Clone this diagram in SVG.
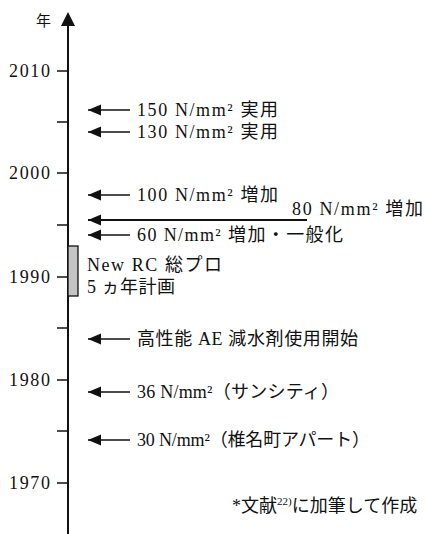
<svg xmlns="http://www.w3.org/2000/svg" width="426" height="534" viewBox="0 0 426 534">
<style>
text{font-family:"Liberation Serif","Noto Sans CJK JP",serif;font-size:18px;fill:#111}
.yr{text-anchor:end}
.ax{stroke:#111;stroke-width:2;fill:none}
.tk{stroke:#111;stroke-width:1.5}
.ar{stroke:#111;stroke-width:1.6}
</style>
<defs>
<marker id="ah" markerWidth="14" markerHeight="12" refX="13" refY="6" orient="auto" markerUnits="userSpaceOnUse">
<path d="M13,6 L0,0.5 L0,11.5 Z" fill="#111"/>
</marker>
</defs>
<rect width="426" height="534" fill="#fff"/>
<g id="axis">
<line class="ax" x1="68" y1="24" x2="68" y2="534"/>
<path d="M68,12 L61,26 L75,26 Z" fill="#111"/>
<text x="36" y="26" style="font-size:15px">年</text>
<g class="tk">
<line x1="57" y1="71" x2="68" y2="71"/>
<line x1="57" y1="122" x2="68" y2="122"/>
<line x1="57" y1="173" x2="68" y2="173"/>
<line x1="57" y1="225" x2="68" y2="225"/>
<line x1="57" y1="277" x2="68" y2="277"/>
<line x1="57" y1="328" x2="68" y2="328"/>
<line x1="57" y1="380" x2="68" y2="380"/>
<line x1="57" y1="431" x2="68" y2="431"/>
<line x1="57" y1="483" x2="68" y2="483"/>
</g>
<text class="yr" x="50" y="77" textLength="41">2010</text>
<text class="yr" x="50" y="179" textLength="41">2000</text>
<text class="yr" x="50" y="283" textLength="41">1990</text>
<text class="yr" x="50" y="386" textLength="41">1980</text>
<text class="yr" x="50" y="489" textLength="41">1970</text>
</g>
<g id="connectors">
<line class="ar" x1="130" y1="110" x2="88" y2="110" marker-end="url(#ah)"/>
<line class="ar" x1="130" y1="132" x2="88" y2="132" marker-end="url(#ah)"/>
<line class="ar" x1="130" y1="195" x2="88" y2="195" marker-end="url(#ah)"/>
<line class="ar" x1="307" y1="220" x2="88" y2="220" style="stroke-width:2.2" marker-end="url(#ah)"/>
<line class="ar" x1="130" y1="235" x2="88" y2="235" marker-end="url(#ah)"/>
<line class="ar" x1="130" y1="339" x2="88" y2="339" marker-end="url(#ah)"/>
<line class="ar" x1="130" y1="392" x2="88" y2="392" marker-end="url(#ah)"/>
<line class="ar" x1="130" y1="440" x2="88" y2="440" marker-end="url(#ah)"/>
</g>
<g id="n150"><text x="137" y="116" textLength="141">150 N/mm² 実用</text></g>
<g id="n130"><text x="137" y="138" textLength="141">130 N/mm² 実用</text></g>
<g id="n100"><text x="137" y="201" textLength="141">100 N/mm² 増加</text></g>
<g id="n80"><text x="292" y="215" textLength="131">80 N/mm² 増加</text></g>
<g id="n60"><text x="137" y="241" textLength="206">60 N/mm² 増加・一般化</text></g>
<g id="newrc">
<rect x="68" y="246" width="10" height="50" fill="#c4c4c4" stroke="#111" stroke-width="1.3"/>
<text x="87" y="271" textLength="135">New  RC 総プロ</text>
<text x="87" y="293" textLength="88">5 ヵ年計画</text>
</g>
<g id="ae"><text x="137" y="345" textLength="221">高性能 AE 減水剤使用開始</text></g>
<g id="n36"><text x="137" y="398" textLength="202">36 N/mm²（サンシティ）</text></g>
<g id="n30"><text x="137" y="446" textLength="233">30 N/mm²（椎名町アパート）</text></g>
<g id="note"><text x="232" y="512" style="font-size:18px">*文献<tspan style="font-size:11px" dy="-7">22)</tspan><tspan dy="7">に加筆して作成</tspan></text></g>
</svg>
